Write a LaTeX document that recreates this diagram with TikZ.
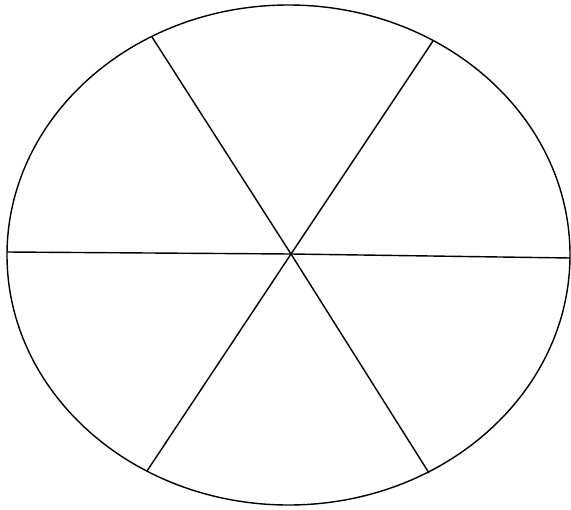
\documentclass[tikz,border=0pt]{standalone}
\usepackage{tikz}
\usetikzlibrary{calc}

\begin{document}
\begin{tikzpicture}[x=0.02cm, y=-0.02cm, rim/.style={line width=0.8pt, black}]
				\useasboundingbox (0,0) rectangle (571,510);
				% the whole disc, slightly wider than it is tall
				\draw[rim] (288.5,255) ellipse [x radius=281.5, y radius=250];
				% hub and the six points where the spokes meet the rim
				\coordinate (hub) at (291,254);
				\coordinate (w) at (7,252);
				\coordinate (e) at (570,258);
				\coordinate (nw) at (152,37);
				\coordinate (ne) at (433,41);
				\coordinate (sw) at (147,471);
				\coordinate (se) at (429,473);
				\foreach \p in {w, e, nw, ne, sw, se}
					\draw[rim] (hub) -- (\p);
			\end{tikzpicture}
\end{document}
